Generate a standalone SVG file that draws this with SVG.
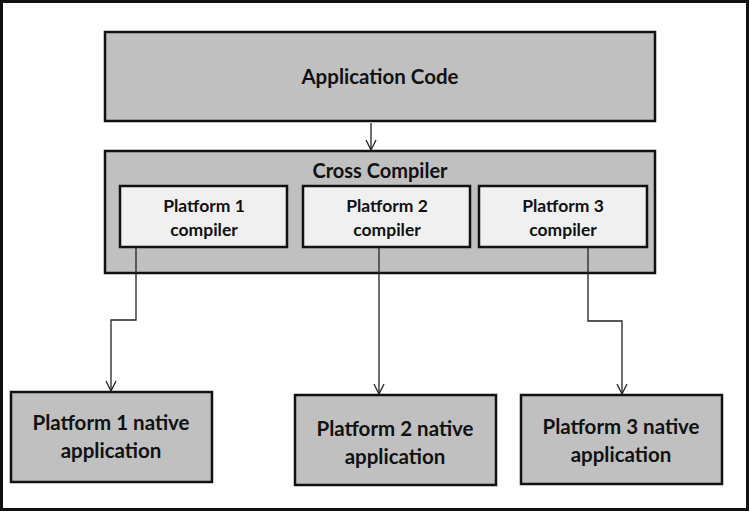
<svg xmlns="http://www.w3.org/2000/svg" width="750" height="512" viewBox="0 0 750 512">
<defs>
<style>
.box{fill:#c0c0c0;stroke:#111;stroke-width:2.5}
.sub{fill:#f0f0f0;stroke:#111;stroke-width:2.5}
.t{font-family:Lato,"Liberation Sans",sans-serif;font-weight:bold;fill:#111;text-anchor:middle}
.big{font-size:20.5px}
.mid{font-size:20px}
.sm{font-size:17.5px}
.c{fill:none;stroke:#222;stroke-width:1.3}
</style>
<marker id="ah" viewBox="0 0 12 12" refX="11" refY="6" markerWidth="12" markerHeight="12" markerUnits="userSpaceOnUse" orient="auto">
<path d="M1,1 L11,6 L1,11" fill="none" stroke="#222" stroke-width="1.3"/>
</marker>
</defs>
<rect x="0" y="0" width="750" height="512" fill="#fff"/>
<rect x="1.5" y="1.5" width="746" height="508" fill="none" stroke="#111" stroke-width="3"/>
<g id="app-code">
<rect class="box" x="105" y="32" width="550" height="89"/>
<text class="t big" x="380" y="84">Application Code</text>
</g>
<g id="cross-compiler">
<rect class="box" x="105" y="151" width="550" height="122"/>
<text class="t mid" x="380" y="178">Cross Compiler</text>
</g>
<g id="p1c">
<rect class="sub" x="120" y="186" width="167" height="61"/>
<text class="t sm" x="204" y="212">Platform 1</text>
<text class="t sm" x="204" y="236">compiler</text>
</g>
<g id="p2c">
<rect class="sub" x="303" y="186" width="167" height="61"/>
<text class="t sm" x="387" y="212">Platform 2</text>
<text class="t sm" x="387" y="236">compiler</text>
</g>
<g id="p3c">
<rect class="sub" x="479" y="186" width="168" height="61"/>
<text class="t sm" x="563" y="212">Platform 3</text>
<text class="t sm" x="563" y="236">compiler</text>
</g>
<g id="p1n">
<rect class="box" x="11" y="392" width="201" height="90"/>
<text class="t big" x="111" y="430">Platform 1 native</text>
<text class="t big" x="111" y="458">application</text>
</g>
<g id="p2n">
<rect class="box" x="295" y="395" width="201" height="90"/>
<text class="t big" x="395" y="436">Platform 2 native</text>
<text class="t big" x="395" y="464">application</text>
</g>
<g id="p3n">
<rect class="box" x="521" y="395" width="201" height="89"/>
<text class="t big" x="621" y="434">Platform 3 native</text>
<text class="t big" x="621" y="462">application</text>
</g>
<g id="connectors">
<path class="c" d="M371,123 V150" marker-end="url(#ah)"/>
<path class="c" d="M136,247 V320 H111 V391" marker-end="url(#ah)"/>
<path class="c" d="M379,247 V394" marker-end="url(#ah)"/>
<path class="c" d="M588,247 V321 H622 V394" marker-end="url(#ah)"/>
</g>
</svg>
